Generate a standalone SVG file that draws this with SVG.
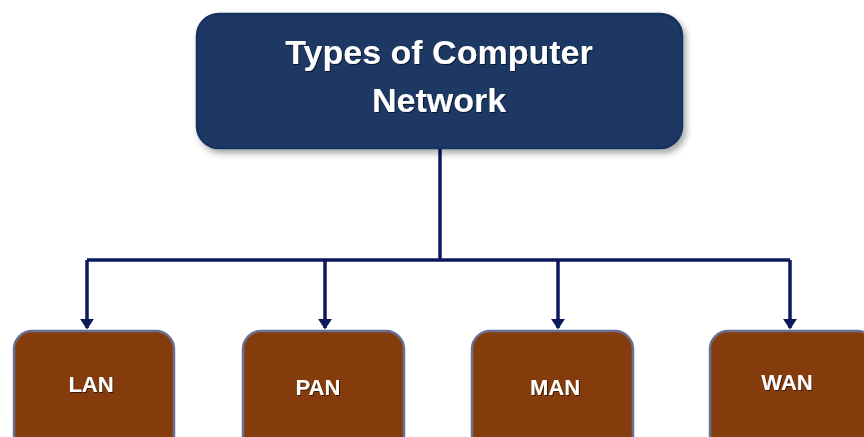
<svg xmlns="http://www.w3.org/2000/svg" width="864" height="437" viewBox="0 0 864 437">
<style>
.title{font-family:"Liberation Sans",Arial,sans-serif;font-weight:bold;font-size:34px;fill:#ffffff;text-anchor:middle}
.lbl{font-family:"Liberation Sans",Arial,sans-serif;font-weight:bold;font-size:22px;fill:#ffffff;text-anchor:middle}
.sub{fill:#843c0c;stroke:#6a6f93;stroke-width:2.5}
.conn{fill:none;stroke:#0b1a5c;stroke-width:3.5}
</style>
<defs>
<filter id="sh" x="-10%" y="-10%" width="120%" height="130%">
<feDropShadow dx="3" dy="4" stdDeviation="3" flood-color="#000" flood-opacity="0.35"/>
</filter>
<filter id="ts" x="-10%" y="-10%" width="120%" height="130%">
<feDropShadow dx="1" dy="1" stdDeviation="0.6" flood-color="#000" flood-opacity="0.6"/>
</filter>
<marker id="ah" markerWidth="4" markerHeight="4" refX="2.6" refY="2" orient="auto" markerUnits="strokeWidth">
<path d="M0,0 L3,2 L0,4 z" fill="#0b1a5c"/>
</marker>
</defs>
<rect width="864" height="437" fill="#ffffff"/>
<g id="connectors">
<path class="conn" d="M440,148 V260"/>
<path class="conn" d="M87,260 H790"/>
<path class="conn" d="M87,260 V328" marker-end="url(#ah)"/>
<path class="conn" d="M325,260 V328" marker-end="url(#ah)"/>
<path class="conn" d="M558,260 V328" marker-end="url(#ah)"/>
<path class="conn" d="M790,260 V328" marker-end="url(#ah)"/>
</g>
<g id="root">
<rect x="197" y="14" width="485" height="134" rx="22" fill="#1f3864" stroke="#17305f" stroke-width="2.5" filter="url(#sh)"/>
<text class="title" x="439" y="64" filter="url(#ts)">Types of Computer</text>
<text class="title" x="439" y="112" filter="url(#ts)">Network</text>
</g>
<g id="lan">
<rect class="sub" x="14" y="331" width="160" height="130" rx="18"/>
<text class="lbl" x="91" y="392" filter="url(#ts)">LAN</text>
</g>
<g id="pan">
<rect class="sub" x="243" y="331" width="161" height="130" rx="18"/>
<text class="lbl" x="318" y="395" filter="url(#ts)">PAN</text>
</g>
<g id="man">
<rect class="sub" x="472" y="331" width="161" height="130" rx="18"/>
<text class="lbl" x="555" y="395" filter="url(#ts)">MAN</text>
</g>
<g id="wan">
<rect class="sub" x="710" y="331" width="165" height="130" rx="18"/>
<text class="lbl" x="787" y="390" filter="url(#ts)">WAN</text>
</g>
</svg>
